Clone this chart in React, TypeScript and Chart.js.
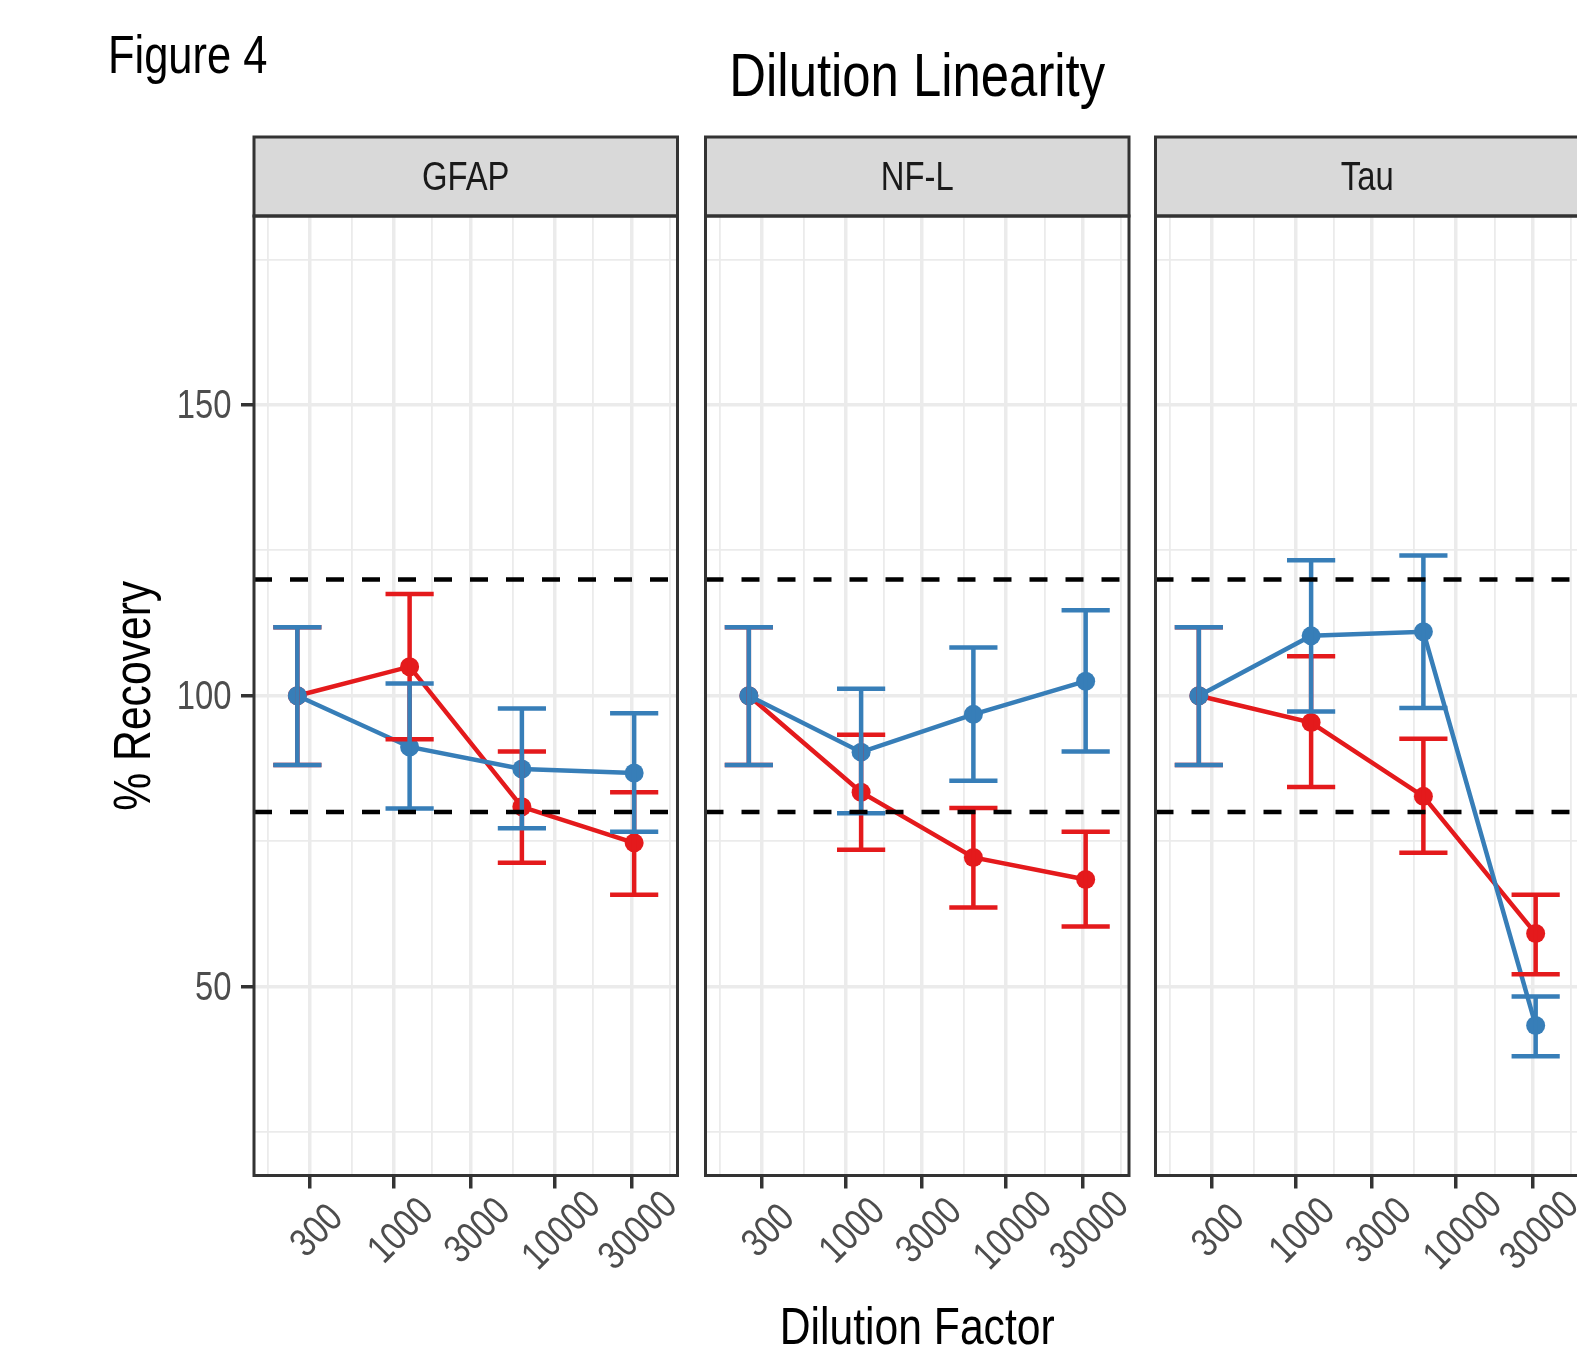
import React, { useEffect, useRef } from 'react';
import { Chart, registerables } from 'chart.js';

Chart.register(...registerables);

// ---------- data ----------
const PANELS = ['GFAP', 'NF-L', 'Tau'];
const DILUTIONS = [250, 1250, 6250, 31250];
const X_TICKS = [300, 1000, 3000, 10000, 30000];
const Y_TICKS = [50, 100, 150];
const Y_MINOR = [25, 75, 125, 175];
const Y_LIMITS = [25, 175];
const REF_LINES = [80, 120];

const FIG_LABEL = 'Figure 4';
const TITLE = 'Dilution Linearity';
const X_TITLE = 'Dilution Factor';
const Y_TITLE = '% Recovery';

// red series (Set1 #1)
const gfapRed = [100, 105.0, 80.9, 74.7];
const gfapRedLo = [88.1, 92.5, 71.3, 65.8];
const gfapRedHi = [111.8, 117.5, 90.4, 83.4];
const nflRed = [100, 83.4, 72.2, 68.4];
const nflRedLo = [88.1, 73.5, 63.6, 60.3];
const nflRedHi = [111.8, 93.3, 80.7, 76.6];
const tauRed = [100, 95.4, 82.7, 59.1];
const tauRedLo = [88.1, 84.3, 73.0, 52.1];
const tauRedHi = [111.8, 106.8, 92.6, 65.8];

// blue series (Set1 #2)
const gfapBlue = [100, 91.2, 87.4, 86.7];
const gfapBlueLo = [88.1, 80.6, 77.2, 76.6];
const gfapBlueHi = [111.8, 102.1, 97.8, 97.0];
const nflBlue = [100, 90.3, 96.8, 102.5];
const nflBlueLo = [88.1, 79.8, 85.4, 90.4];
const nflBlueHi = [111.8, 101.2, 108.3, 114.7];
const tauBlue = [100, 110.3, 111.0, 43.3];
const tauBlueLo = [88.1, 97.3, 97.9, 38.0];
const tauBlueHi = [111.8, 123.3, 124.1, 48.3];

const RED_SERIES = [
  [gfapRed, gfapRedLo, gfapRedHi],
  [nflRed, nflRedLo, nflRedHi],
  [tauRed, tauRedLo, tauRedHi],
];
const BLUE_SERIES = [
  [gfapBlue, gfapBlueLo, gfapBlueHi],
  [nflBlue, nflBlueLo, nflBlueHi],
  [tauBlue, tauBlueLo, tauBlueHi],
];

// ---------- styling / layout ----------
const RED = '#E41A1C';
const BLUE = '#377EB8';
const FONT = "'Liberation Sans', Arial, sans-serif";
const NARROW = 0.82; // horizontal squeeze -> Arial Narrow look
const ERR_HALF = 0.15; // errorbar half-width in log10 units
const LINE_W = 4.5;
const STRIP_H = 79;
const PAGE_W = 1577;
const PAGE_H = 1351;
const CANVAS_W = 1600;
const X_AXIS_H = 175.5;
const Y_AXIS_W = 20;
const TOP = 216;
const PANEL_LEFT = [254, 705.5, 1155.5];
const PANEL_W = 423.5;

// axis limits (ggplot-like 5% expansion)
const lxLo = Math.log10(DILUTIONS[0]) - ERR_HALF;
const lxHi = Math.log10(DILUTIONS[DILUTIONS.length - 1]) + ERR_HALF;
const lxPad = (lxHi - lxLo) * 0.05;
const X_MIN = Math.pow(10, lxLo - lxPad);
const X_MAX = Math.pow(10, lxHi + lxPad);
const yPad = (Y_LIMITS[1] - Y_LIMITS[0]) * 0.05;
const Y_MIN = Y_LIMITS[0] - yPad;
const Y_MAX = Y_LIMITS[1] + yPad;

// minor x breaks: midpoints (log space) between majors, extended one step
const lt = X_TICKS.map((v) => Math.log10(v));
const ext = [lt[0] - (lt[1] - lt[0]), ...lt, lt[lt.length - 1] + (lt[lt.length - 1] - lt[lt.length - 2])];
const lMinor: number[] = [];
for (let k = 0; k < ext.length - 1; k++) lMinor.push((ext[k] + ext[k + 1]) / 2);
const X_MINOR = lMinor.map((l) => Math.pow(10, l)).filter((v) => v > X_MIN && v < X_MAX);
const X_ALL = [...X_MINOR, ...X_TICKS].sort((a, b) => a - b);
const Y_ALL = [...Y_MINOR, ...Y_TICKS].sort((a, b) => a - b);

function drawNarrow(
  ctx: CanvasRenderingContext2D,
  text: string,
  x: number,
  y: number,
  size: number,
  align: CanvasTextAlign,
  rotate: number,
  color: string
) {
  ctx.save();
  ctx.translate(x, y);
  if (rotate) ctx.rotate(rotate);
  ctx.scale(NARROW, 1);
  ctx.font = `${size}px ${FONT}`;
  ctx.fillStyle = color;
  ctx.textAlign = align;
  ctx.textBaseline = 'middle';
  ctx.fillText(text, 0, 0);
  ctx.restore();
}

const errorBarPlugin = {
  id: 'errbars',
  afterDatasetDraw(chart: any, args: any) {
    const ds = chart.data.datasets[args.index];
    if (ds.label !== 'blue') return;
    const { ctx, chartArea } = chart;
    const xs = chart.scales.x;
    const ys = chart.scales.y;
    ctx.save();
    ctx.beginPath();
    ctx.rect(chartArea.left, chartArea.top, chartArea.right - chartArea.left, chartArea.bottom - chartArea.top);
    ctx.clip();
    ['red', 'blue'].forEach((lab) => {
      const d = chart.data.datasets.find((q: any) => q.label === lab);
      ctx.strokeStyle = d.borderColor;
      ctx.lineWidth = LINE_W;
      ctx.lineCap = 'butt';
      DILUTIONS.forEach((x, j) => {
        const px = xs.getPixelForValue(x);
        const l = xs.getPixelForValue(x * Math.pow(10, -ERR_HALF));
        const r = xs.getPixelForValue(x * Math.pow(10, ERR_HALF));
        const yl = ys.getPixelForValue(d.errLo[j]);
        const yh = ys.getPixelForValue(d.errHi[j]);
        ctx.beginPath();
        ctx.moveTo(px, yl);
        ctx.lineTo(px, yh);
        ctx.moveTo(l, yh);
        ctx.lineTo(r, yh);
        ctx.moveTo(l, yl);
        ctx.lineTo(r, yl);
        ctx.stroke();
      });
    });
    ctx.restore();
  },
};

const decorPlugin = {
  id: 'decor',
  afterDraw(chart: any, _args: any, opts: any) {
    const i = opts.panel;
    const { ctx, chartArea } = chart;
    const { left, right, top, bottom } = chartArea;
    const xs = chart.scales.x;
    const ys = chart.scales.y;
    ctx.save();
    // facet strip
    const sTop = top - STRIP_H;
    ctx.fillStyle = '#D9D9D9';
    ctx.fillRect(left, sTop, right - left, STRIP_H);
    ctx.strokeStyle = '#333333';
    ctx.lineWidth = 3;
    ctx.strokeRect(left, sTop, right - left, STRIP_H);
    drawNarrow(ctx, PANELS[i], (left + right) / 2, sTop + STRIP_H / 2 + 2, 40, 'center', 0, '#1A1A1A');
    // panel border
    ctx.strokeRect(left, top, right - left, bottom - top);
    ctx.restore();

    // x tick labels (rotated 45, centred)
    xs.ticks.forEach((t: any) => {
      if (!X_TICKS.includes(t.value)) return;
      const px = xs.getPixelForValue(t.value);
      drawNarrow(ctx, String(t.value), px + 7.5, bottom + 56, 40, 'center', -Math.PI / 4, '#4D4D4D');
    });

    if (i === 0) {
      ys.ticks.forEach((t: any) => {
        if (!Y_TICKS.includes(t.value)) return;
        drawNarrow(ctx, String(t.value), left - 22.5, ys.getPixelForValue(t.value) + 2, 40, 'right', 0, '#4D4D4D');
      });
      drawNarrow(ctx, Y_TITLE, left - 118, (top + bottom) / 2, 52, 'center', -Math.PI / 2, '#000000');
      drawNarrow(ctx, FIG_LABEL, left - 146, 58.5, 53, 'left', 0, '#000000');
    }
    if (i === 1) {
      drawNarrow(ctx, TITLE, (left + right) / 2, 79, 62, 'center', 0, '#000000');
      drawNarrow(ctx, X_TITLE, (left + right) / 2, 1329.5, 52, 'center', 0, '#000000');
    }
  },
};

function buildConfig(i: number): any {
  const [rm, rlo, rhi] = RED_SERIES[i];
  const [bm, blo, bhi] = BLUE_SERIES[i];
  const refSets = REF_LINES.map((v) => ({
    label: 'ref' + v,
    data: [
      { x: X_MIN, y: v },
      { x: X_MAX, y: v },
    ],
    borderColor: '#000000',
    borderWidth: LINE_W,
    borderDash: [18, 18],
    pointRadius: 0,
    order: 0,
  }));
  const series = (label: string, color: string, m: number[], lo: number[], hi: number[], order: number) => ({
    label,
    data: DILUTIONS.map((x, j) => ({ x, y: m[j] })),
    borderColor: color,
    backgroundColor: color,
    borderWidth: LINE_W,
    pointRadius: 9.5,
    pointBorderWidth: 0,
    pointBackgroundColor: color,
    errLo: lo,
    errHi: hi,
    order,
  });

  return {
    type: 'line',
    data: {
      datasets: [...refSets, series('blue', BLUE, bm, blo, bhi, 1), series('red', RED, rm, rlo, rhi, 2)],
    },
    plugins: [errorBarPlugin, decorPlugin],
    options: {
      responsive: false,
      animation: false,
      events: [],
      layout: {
        autoPadding: false,
        padding: {
          top: TOP,
          left: PANEL_LEFT[i] - Y_AXIS_W,
          right: CANVAS_W - PANEL_LEFT[i] - PANEL_W,
          bottom: 0,
        },
      },
      plugins: {
        legend: { display: false },
        tooltip: { enabled: false },
        title: { display: false },
        decor: { panel: i },
      },
      scales: {
        x: {
          type: 'logarithmic',
          min: X_MIN,
          max: X_MAX,
          afterBuildTicks: (s: any) => {
            s.ticks = X_ALL.map((v) => ({ value: v }));
          },
          afterFit: (s: any) => {
            s.height = X_AXIS_H;
            s.paddingLeft = 0;
            s.paddingRight = 0;
          },
          ticks: {
            display: false,
            autoSkip: false,
            callback: (v: number) => (X_TICKS.includes(v) ? String(v) : ''),
          },
          grid: {
            color: '#EBEBEB',
            lineWidth: (c: any) => (X_TICKS.includes(c.tick?.value) ? 3.5 : 1.8),
            drawTicks: true,
            tickLength: 13,
            tickWidth: 3.5,
            tickColor: (c: any) => (X_TICKS.includes(c.tick?.value) ? '#333333' : 'rgba(0,0,0,0)'),
          },
          border: { display: false },
          title: { display: false },
        },
        y: {
          type: 'linear',
          min: Y_MIN,
          max: Y_MAX,
          afterBuildTicks: (s: any) => {
            s.ticks = Y_ALL.map((v) => ({ value: v }));
          },
          afterFit: (s: any) => {
            s.width = Y_AXIS_W;
            s.paddingTop = 0;
            s.paddingBottom = 0;
          },
          ticks: {
            display: false,
            autoSkip: false,
            callback: (v: number) => (Y_TICKS.includes(v) ? String(v) : ''),
          },
          grid: {
            color: '#EBEBEB',
            lineWidth: (c: any) => (Y_TICKS.includes(c.tick?.value) ? 3.5 : 1.8),
            drawTicks: i === 0,
            tickLength: 13,
            tickWidth: 3.5,
            tickColor: (c: any) => (Y_TICKS.includes(c.tick?.value) ? '#333333' : 'rgba(0,0,0,0)'),
          },
          border: { display: false },
          title: { display: false },
        },
      },
    },
  };
}

export default function App() {
  const r0 = useRef<HTMLCanvasElement>(null);
  const r1 = useRef<HTMLCanvasElement>(null);
  const r2 = useRef<HTMLCanvasElement>(null);
  const refs = [r0, r1, r2];
  useEffect(() => {
    const charts = refs.map((r, i) => new Chart(r.current as HTMLCanvasElement, buildConfig(i)));
    return () => charts.forEach((c) => c.destroy());
  }, []);
  return (
    <div
      style={{
        position: 'fixed',
        left: 0,
        top: 0,
        width: PAGE_W,
        height: PAGE_H,
        overflow: 'hidden',
        background: '#ffffff',
      }}
    >
      {PANELS.map((p, i) => (
        <canvas
          key={p}
          ref={refs[i]}
          width={CANVAS_W}
          height={PAGE_H}
          style={{ position: 'absolute', left: 0, top: 0, width: CANVAS_W, height: PAGE_H }}
        />
      ))}
    </div>
  );
}
